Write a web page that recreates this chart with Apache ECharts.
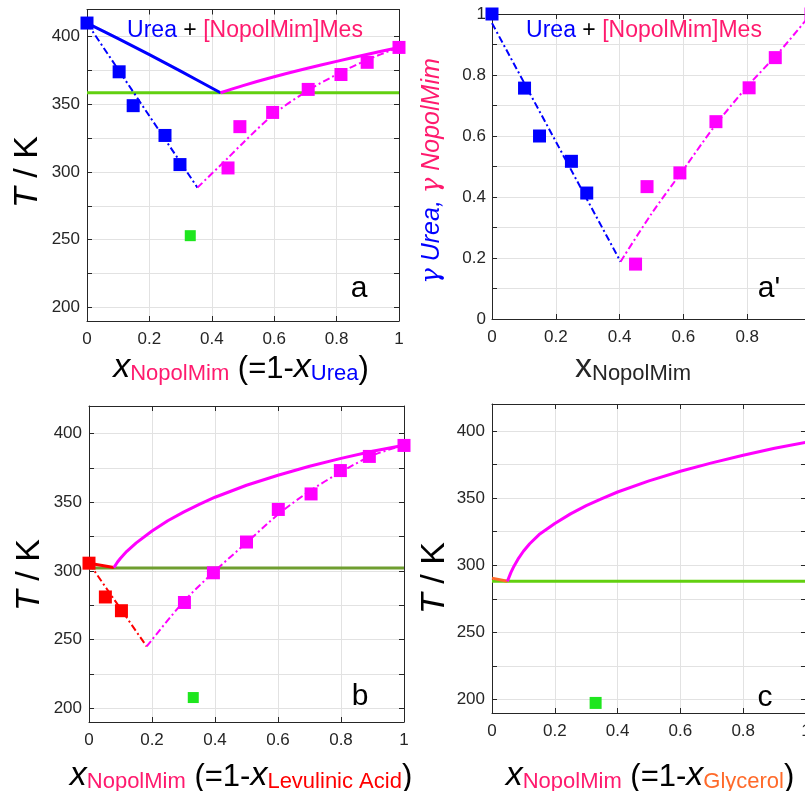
<!DOCTYPE html>
<html><head><meta charset="utf-8">
<script src="https://cdn.jsdelivr.net/npm/echarts@6/dist/echarts.min.js"></script>
<style>html,body{margin:0;padding:0;background:#fff;overflow:hidden}#c{width:805px;height:791px}</style>
</head><body><div id="c"></div><script>
// ---------- Panel a : Urea + [NopolMim]Mes (T / K) ----------
var aBlueSolid = [[0,410],[0.1,398.5],[0.2,386.7],[0.3,374.5],[0.428,358.5]];
var aMagSolid = [[0.428,358.5],[0.5,363.8],[0.6,370.3],[0.7,376.2],[0.8,381.7],[0.9,386.9],[1,392]];
var aGreenLine = [[0,358.5],[1,358.5]];
var aBlueDash = [[0,410],[0.354,288.5]];
var aMagDash = [[0.354,288.5],[0.45,310],[0.5,321.5],[0.6,343],[0.7,359],[0.8,372],[0.9,383],[1,392]];
var aBlueSq = [[0,410],[0.103,374],[0.148,349],[0.25,327],[0.298,305.5]];
var aMagSq = [[0.452,303],[0.49,333.5],[0.595,344],[0.709,361],[0.814,372],[0.898,381],[1,392]];
var aGreenSq = [[0.331,253]];
// ---------- Panel a' : activity coefficients ----------
var apBlueDash = [[0,0.97],[0.403,0.188]];
var apMagDash = [[0.403,0.188],[0.5,0.345],[0.6,0.49],[0.7,0.635],[0.8,0.762],[0.9,0.875],[1,1.0]];
var apBlueSq = [[0,1.0],[0.102,0.757],[0.149,0.6],[0.249,0.517],[0.297,0.413]];
var apMagSq = [[0.45,0.18],[0.486,0.434],[0.589,0.479],[0.702,0.647],[0.806,0.758],[0.888,0.857],[1,1.0]];
// ---------- Panel b : Levulinic Acid ----------
var bRedSolid = [[0,305.6],[0.079,302.4]];
var bMagSolid = [[0.079,302.4],[0.09,306.3],[0.1,309.2],[0.12,314.2],[0.15,320.4],[0.2,329],[0.25,336.5],[0.3,342.8],[0.35,348.4],[0.4,353.6],[0.5,362.3],[0.6,369.6],[0.7,376.1],[0.8,381.9],[0.9,387],[1,391.5]];
var bGreenLine = [[0,302],[1,302]];
var bRedDash = [[0,305.6],[0.183,245]];
var bMagDash = [[0.183,245],[0.3,277.5],[0.4,300],[0.5,320.5],[0.6,341],[0.7,358],[0.8,372],[0.9,384],[1,391.5]];
var bRedSq = [[0,305.6],[0.052,281],[0.103,271]];
var bMagSq = [[0.303,277],[0.395,298.6],[0.5,321],[0.601,344.7],[0.705,356],[0.798,373],[0.89,383.3],[1,391.3]];
var bGreenSq = [[0.331,207.8]];
// ---------- Panel c : Glycerol ----------
var cOrangeSolid = [[0,290.4],[0.049,288]];
var cMagSolid = [[0.049,288],[0.06,294.5],[0.07,299.3],[0.085,305.3],[0.1,310.4],[0.12,316],[0.15,322.8],[0.2,331],[0.25,338.2],[0.3,344.3],[0.35,349.6],[0.4,354.5],[0.5,362.8],[0.6,369.9],[0.7,376.2],[0.8,381.9],[0.9,387],[1,391.5]];
var cGreenLine = [[0,288],[1,288]];
var cGreenSq = [[0.33,197.5]];
// ---------- tick values ----------
var tTicks = [200,225,250,275,300,325,350,375,400];
var tLabels = [200,250,300,350,400];

var FONT = "'Liberation Sans', Arial, sans-serif";
var TXT = '#262626';
var GRIDC = '#e2e2e2';
var BLUE = '#0000ff', MAG = '#ff00ff', PINK = '#ff1a6e', GREEN = '#62d010', GREENB = '#6f9e30', RED = '#ff0000', ORANGE = '#ff6a2a', SQGREEN = '#1ee61e';
var DASH = [7,3,2,3];

var grids = [
  {left:87, right:406, top:9.5, bottom:470, outerBoundsMode:'none', containLabel:false},
  {left:492, right:-6, top:14, bottom:472, outerBoundsMode:'none', containLabel:false},
  {left:89, right:401, top:406, bottom:69, outerBoundsMode:'none', containLabel:false},
  {left:492, right:-1, top:404, bottom:78, outerBoundsMode:'none', containLabel:false}
];
var xAxes = [], yAxes = [];
for (var g = 0; g < 4; g++) {
  xAxes.push({type:'value', gridIndex:g, min:0, max:1, interval:0.2, position:'bottom',
    axisLine:{onZero:false, lineStyle:{color:TXT, width:1}},
    axisTick:{inside:true, length:5, lineStyle:{color:TXT}},
    axisLabel:{color:TXT, fontSize:17, fontFamily:FONT, margin:10,
      formatter:function(v){return (Math.round(v*10)/10).toString();}},
    splitLine:{show:true, lineStyle:{color:GRIDC, width:1}}});
  xAxes.push({type:'value', gridIndex:g, min:0, max:1, interval:0.2, position:'top',
    axisLine:{onZero:false, lineStyle:{color:TXT, width:1}},
    axisTick:{inside:true, length:5, lineStyle:{color:TXT}},
    axisLabel:{show:false}, splitLine:{show:false}});
  if (g === 1) {
    yAxes.push({type:'value', gridIndex:g, min:0, max:1, interval:0.1, position:'left',
      axisLine:{onZero:false, lineStyle:{color:TXT}},
      axisTick:{inside:true, length:5, lineStyle:{color:TXT}},
      axisLabel:{color:TXT, fontSize:17, fontFamily:FONT, margin:6,
        formatter:function(v){var r=Math.round(v*10); return r%2===0 ? (r/10).toString() : '';}},
      splitLine:{show:true, lineStyle:{color:GRIDC}}});
    yAxes.push({type:'value', gridIndex:g, min:0, max:1, interval:0.1, position:'right',
      axisLine:{onZero:false, lineStyle:{color:TXT}},
      axisTick:{inside:true, length:5, lineStyle:{color:TXT}},
      axisLabel:{show:false}, splitLine:{show:false}});
  } else {
    yAxes.push({type:'value', gridIndex:g, min:190, max:420, position:'left',
      axisLine:{onZero:false, lineStyle:{color:TXT}},
      axisTick:{inside:true, length:5, lineStyle:{color:TXT}, customValues:tTicks},
      axisLabel:{color:TXT, fontSize:17, fontFamily:FONT, margin:7, customValues:tLabels},
      splitLine:{show:true, lineStyle:{color:GRIDC}}});
    yAxes.push({type:'value', gridIndex:g, min:190, max:420, position:'right',
      axisLine:{onZero:false, lineStyle:{color:TXT}},
      axisTick:{inside:true, length:5, lineStyle:{color:TXT}, customValues:tTicks},
      axisLabel:{show:false}, splitLine:{show:false}});
  }
}

var series = [];
function ln(g, data, color, width, dash, smooth, z) {
  series.push({type:'line', xAxisIndex:g*2, yAxisIndex:g*2, data:data, symbol:'none',
    smooth: smooth ? 0.3 : false, z: z || 2, silent:true, animation:false,
    lineStyle:{color:color, width:width, type: dash ? DASH : 'solid', cap:'butt', join:'round'}});
}
function sq(g, data, color, size) {
  series.push({type:'scatter', xAxisIndex:g*2, yAxisIndex:g*2, data:data, symbol:'rect',
    symbolSize:size, clip:false, z:5, animation:false,
    itemStyle:{color:color, opacity:1}});
}
// a
ln(0, aGreenLine, GREEN, 3, false, false, 2);
ln(0, aBlueSolid, BLUE, 3, false, true, 3);
ln(0, aMagSolid, MAG, 3, false, true, 3);
ln(0, aBlueDash, BLUE, 2, true, false, 3);
ln(0, aMagDash, MAG, 2, true, true, 3);
sq(0, aBlueSq, BLUE, 13); sq(0, aMagSq, MAG, 13); sq(0, aGreenSq, SQGREEN, 11);
// a'
ln(1, apBlueDash, BLUE, 2, true, false, 3);
ln(1, apMagDash, MAG, 2, true, true, 3);
sq(1, apBlueSq, BLUE, 13); sq(1, apMagSq, MAG, 13);
// b
ln(2, bGreenLine, GREENB, 3, false, false, 2);
ln(2, bRedSolid, RED, 3, false, false, 3);
ln(2, bMagSolid, MAG, 3, false, false, 3);
ln(2, bRedDash, RED, 2, true, false, 3);
ln(2, bMagDash, MAG, 2, true, true, 3);
sq(2, bRedSq, RED, 13); sq(2, bMagSq, MAG, 13); sq(2, bGreenSq, SQGREEN, 11);
// c
ln(3, cGreenLine, GREEN, 3, false, false, 2);
ln(3, cOrangeSolid, ORANGE, 3, false, false, 3);
ln(3, cMagSolid, MAG, 3, false, false, 3);
sq(3, cGreenSq, SQGREEN, 12);

function txt(x, y, text, rich, rot) {
  return {type:'text', x:x, y:y, rotation: rot || 0, z:10, silent:true,
    style:{text:text, rich:rich, align:'center', verticalAlign:'middle', fontFamily:FONT}};
}
var xlabRich = function(col2){
  return {
    x:{fontSize:34, fontFamily:FONT, fontStyle:'italic', fill:'#000', verticalAlign:'bottom', lineHeight:36},
    s:{fontSize:22, fontFamily:FONT, fill:PINK, verticalAlign:'bottom', lineHeight:32},
    n:{fontSize:31, fontFamily:FONT, fill:'#000', verticalAlign:'bottom', lineHeight:36},
    u:{fontSize:22, fontFamily:FONT, fill:col2, verticalAlign:'bottom', lineHeight:32}
  };
};
var tkRich = {t:{fontSize:34, fontFamily:FONT, fontStyle:'italic', fill:'#000'}, k:{fontSize:34, fontFamily:FONT, fill:'#000'}};
var titleRich = {b:{fontSize:23, fontFamily:FONT, fill:BLUE}, k:{fontSize:23, fontFamily:FONT, fill:'#000'}, p:{fontSize:23, fontFamily:FONT, fill:PINK}};
var letRich = {l:{fontSize:30, fontFamily:FONT, fill:'#000'}};
var gamRich = {
  g1:{fontSize:26, fontFamily:"'DejaVu Serif', serif", fontStyle:'italic', fill:BLUE},
  b:{fontSize:25, fontFamily:FONT, fontStyle:'italic', fill:BLUE},
  g2:{fontSize:26, fontFamily:"'DejaVu Serif', serif", fontStyle:'italic', fill:PINK},
  p:{fontSize:25, fontFamily:FONT, fontStyle:'italic', fill:PINK}
};

var graphics = [
  txt(245, 31, '{b|Urea}{k| + }{p|[NopolMim]Mes}', titleRich),
  txt(644, 31, '{b|Urea}{k| + }{p|[NopolMim]Mes}', titleRich),
  txt(28, 172, '{t|T}{k| / K}', tkRich, Math.PI/2),
  txt(30, 575, '{t|T}{k| / K}', tkRich, Math.PI/2),
  txt(435, 578, '{t|T}{k| / K}', tkRich, Math.PI/2),
  txt(432, 171, '{g1|γ}{b| Urea, }{g2|γ}{p| NopolMim}', gamRich, Math.PI/2),
  txt(241, 367, '{x|x}{s|NopolMim}{n| (=1-}{x|x}{u|Urea}{n|)}', xlabRich(BLUE)),
  txt(633, 367, '{x|x}{s|NopolMim}', {x:{fontSize:34, fontFamily:FONT, fill:'#262626', verticalAlign:'bottom', lineHeight:36}, s:{fontSize:22, fontFamily:FONT, fill:'#262626', verticalAlign:'bottom', lineHeight:32}}),
  txt(241, 775, '{x|x}{s|NopolMim}{n| (=1-}{x|x}{u|Levulinic Acid}{n|)}', xlabRich(RED)),
  txt(650, 775, '{x|x}{s|NopolMim}{n| (=1-}{x|x}{u|Glycerol}{n|)}', xlabRich(ORANGE)),
  txt(359, 289, '{l|a}', letRich),
  txt(769, 289, "{l|a'}", letRich),
  txt(360, 697, '{l|b}', letRich),
  txt(765, 698, '{l|c}', letRich)
];

var chart = echarts.init(document.getElementById('c'), null, {renderer:'canvas'});
chart.setOption({
  animation:false,
  backgroundColor:'#ffffff',
  grid: grids,
  xAxis: xAxes,
  yAxis: yAxes,
  series: series,
  graphic: graphics
});
</script></body></html>
